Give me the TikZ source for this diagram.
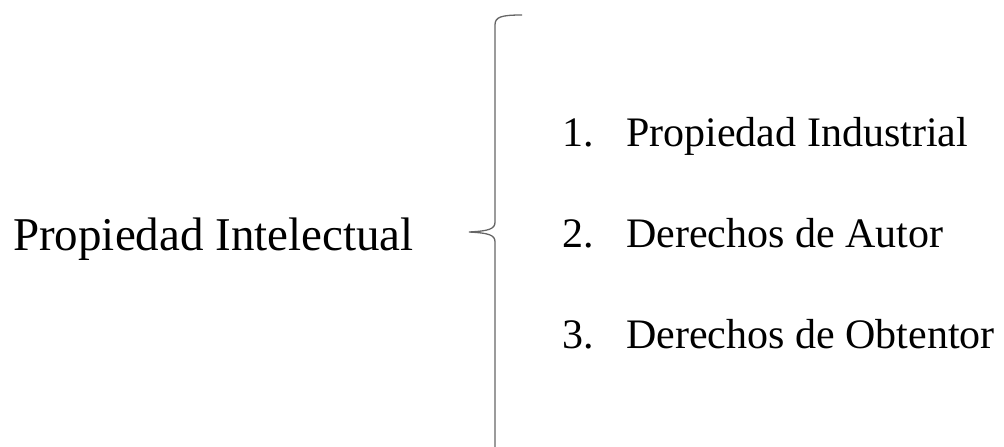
\documentclass[tikz,border=0pt]{standalone}
\usepackage{fontspec}
\setmainfont{Liberation Serif}
\usetikzlibrary{positioning}

\tikzset{
  bigtext/.style={inner sep=0pt, anchor=base west, font=\fontsize{47}{56}\selectfont},
  itemtext/.style={inner sep=0pt, anchor=base west, font=\fontsize{42}{50}\selectfont},
  bracestyle/.style={draw=black!60, line width=1.3pt}
}

\begin{document}
\begin{tikzpicture}[x=1pt, y=-1pt]
\useasboundingbox (0,0) rectangle (1004,447);

% left label
\node[bigtext] (main) at (13,250) {Propiedad Intelectual};

% brace
\coordinate (tip) at (469,232);
\draw[bracestyle] (522,15) .. controls (501,15) and (495,17) .. (495,25)
  -- (495,222) .. controls (495,229) and (489,231) .. (tip)
  .. controls (489,233) and (495,235) .. (495,242) -- (495,447);

% items
\node[itemtext] (n1) at (562,146) {1.};
\node[itemtext] (t1) at (626,146) {Propiedad Industrial};
\node[itemtext] (n2) at (562,247) {2.};
\node[itemtext] (t2) at (626,247) {Derechos de Autor};
\node[itemtext] (n3) at (562,348) {3.};
\node[itemtext] (t3) at (626,348) {Derechos de Obtentor};
\end{tikzpicture}
\end{document}
